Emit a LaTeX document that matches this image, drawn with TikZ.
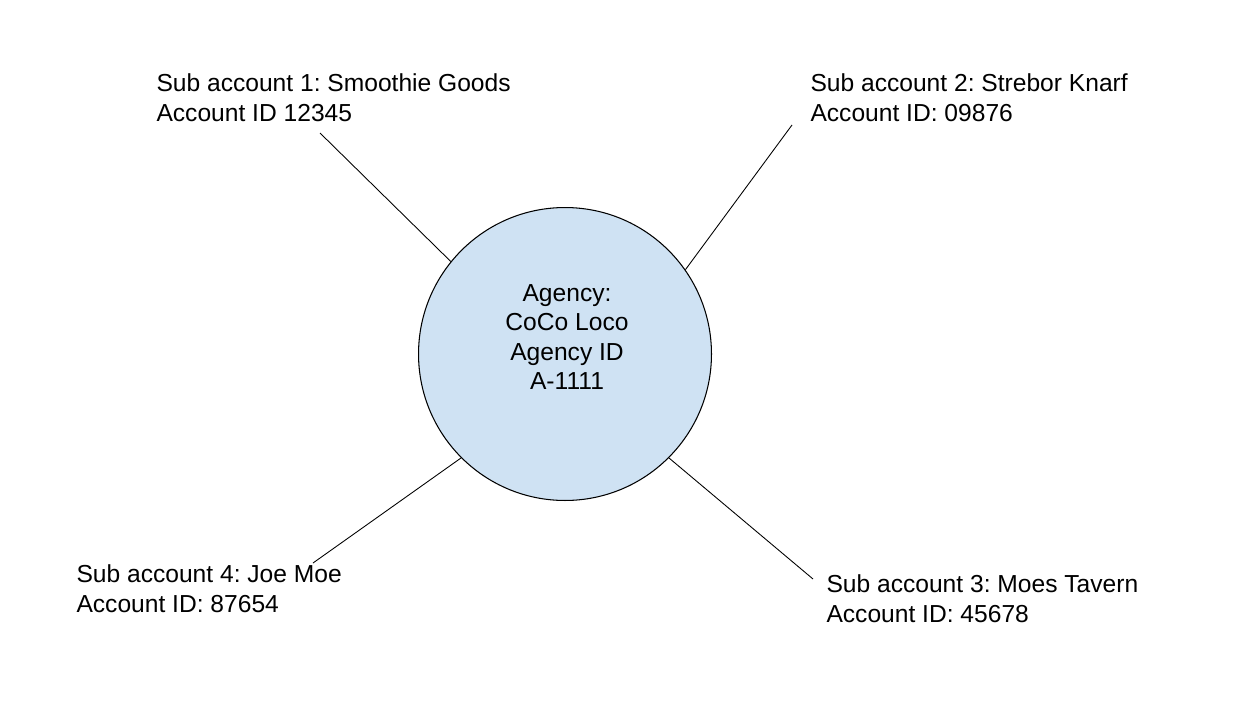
\documentclass[tikz,border=0pt]{standalone}
\usepackage{fontspec}
\setmainfont{Liberation Sans}
\usepackage{tikz}
\usetikzlibrary{positioning,shapes,calc}

\definecolor{agencyblue}{HTML}{CFE2F3}
\frenchspacing

\begin{document}
\begin{tikzpicture}[x=0.02cm,y=-0.02cm,semithick,
                    font=\fontsize{14pt}{16.8pt}\selectfont]
  \tikzstyle{agency}=[circle,draw=black,line width=0.6pt,fill=agencyblue,minimum size=5.86cm,inner sep=0pt]
  \tikzstyle{account}=[align=left,inner sep=0pt,anchor=base west]
  \tikzstyle{link}=[draw=black,line width=0.5pt]

  \useasboundingbox (0,0) rectangle (1260,706);

  \node[agency]				(agency) at (565,354)	{};
  \node[align=center,inner sep=0pt]	(agencytext) at (567,337)	{Agency:\\CoCo Loco\\Agency ID\\A-1111};

  \node[account]	(sub1) at (156,121.5)	{Sub account 1: Smoothie Goods\\Account ID 12345};
  \node[account]	(sub2) at (810,121.5)	{Sub account 2: Strebor Knarf\\Account ID: 09876};
  \node[account]	(sub3) at (826,622)	{Sub account 3: Moes Tavern\\Account ID: 45678};
  \node[account]	(sub4) at (76,612)	{Sub account 4: Joe Moe\\Account ID: 87654};

  \coordinate (end1) at (320,133);
  \coordinate (end2) at (792,125);
  \coordinate (end3) at (813,579);
  \coordinate (end4) at (313,563);

  \path (end1) edge [link] (agency.141.4);
  \path (end2) edge [link] (agency.35.1);
  \path (end3) edge [link] (agency.-45);
  \path (end4) edge [link] (agency.-135.3);

\end{tikzpicture}
\end{document}
